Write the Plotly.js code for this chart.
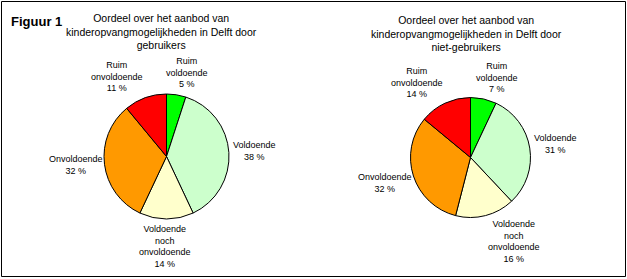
<!DOCTYPE html>
<html>
<head>
<meta charset="utf-8">
<script src="https://cdn.plot.ly/plotly-3.0.1.min.js"></script>
<style>html,body{margin:0;padding:0;background:#fff;}#chart{width:627px;height:279px;}</style>
</head>
<body>
<div id="chart"></div>
<script>
// ---- data ----
var categories = ["Ruim voldoende", "Voldoende", "Voldoende noch onvoldoende", "Onvoldoende", "Ruim onvoldoende"];
var labelLines = ["Ruim<br>voldoende", "Voldoende", "Voldoende<br>noch<br>onvoldoende", "Onvoldoende", "Ruim<br>onvoldoende"];
var gebruikers = [5, 38, 14, 32, 11];
var nietGebruikers = [7, 31, 16, 32, 14];
var sliceColors = ["#00FF00", "#CCFFCC", "#FFFFCC", "#FF9900", "#FF0000"];
var title1 = "Oordeel over het aanbod van<br>kinderopvangmogelijkheden in Delft door<br>gebruikers";
var title2 = "Oordeel over het aanbod van<br>kinderopvangmogelijkheden in Delft door<br>niet-gebruikers";
var figLabel = "Figuur 1";

// ---- layout helpers (pixel positions) ----
var W = 627, H = 279;
function px(x) { return x / W; }
function py(y) { return 1 - y / H; }

var fam = "Liberation Sans, Arial, sans-serif";
var labelFont = {family: fam, size: 9, color: "#000"};
var titleFont = {family: fam, size: 10.5, color: "#000"};

// label positions (pixel centers) for each category, per pie
var labelPos1 = [[187, 72], [254, 151], [165, 246], [76, 165], [117, 76]];
var labelPos2 = [[497, 77], [555, 144], [514, 241], [385, 183], [417, 82]];

function pieTrace(vals, cx, cy, r) {
  return {
    type: "pie",
    values: vals,
    labels: categories,
    sort: false,
    direction: "clockwise",
    rotation: 0,
    textinfo: "none",
    hoverinfo: "label+percent",
    marker: {colors: sliceColors, line: {color: "#000", width: 1}},
    domain: {x: [px(cx - r), px(cx + r)], y: [py(cy + r), py(cy - r)]},
    showlegend: false
  };
}

var annotations = [];
function addLabels(vals, pos) {
  for (var i = 0; i < vals.length; i++) {
    annotations.push({
      text: labelLines[i] + "<br>" + vals[i] + " %",
      x: px(pos[i][0]), y: py(pos[i][1]),
      xref: "paper", yref: "paper", xanchor: "center", yanchor: "middle",
      showarrow: false, font: labelFont, align: "center"
    });
  }
}
addLabels(gebruikers, labelPos1);
addLabels(nietGebruikers, labelPos2);

annotations.push({text: title1, x: px(161), y: py(31), xref: "paper", yref: "paper",
  xanchor: "center", yanchor: "middle", showarrow: false, font: titleFont, align: "center"});
annotations.push({text: title2, x: px(466), y: py(33), xref: "paper", yref: "paper",
  xanchor: "center", yanchor: "middle", showarrow: false, font: titleFont, align: "center"});
annotations.push({text: "<b>" + figLabel + "</b>", x: px(9), y: py(22), xref: "paper", yref: "paper",
  xanchor: "left", yanchor: "middle", showarrow: false,
  font: {family: fam, size: 13, color: "#000"}});

var layout = {
  width: W, height: H,
  margin: {l: 0, r: 0, t: 0, b: 0},
  paper_bgcolor: "#fff",
  plot_bgcolor: "#fff",
  annotations: annotations,
  shapes: [{type: "rect", xref: "paper", yref: "paper",
    x0: px(1.5), x1: px(625.5), y0: py(276.5), y1: py(1.5),
    line: {color: "#000", width: 1}}]
};

Plotly.newPlot("chart", [pieTrace(gebruikers, 166.5, 156.5, 62.5), pieTrace(nietGebruikers, 470.5, 157.5, 60)], layout, {displayModeBar: false, staticPlot: true});
</script>
</body>
</html>
